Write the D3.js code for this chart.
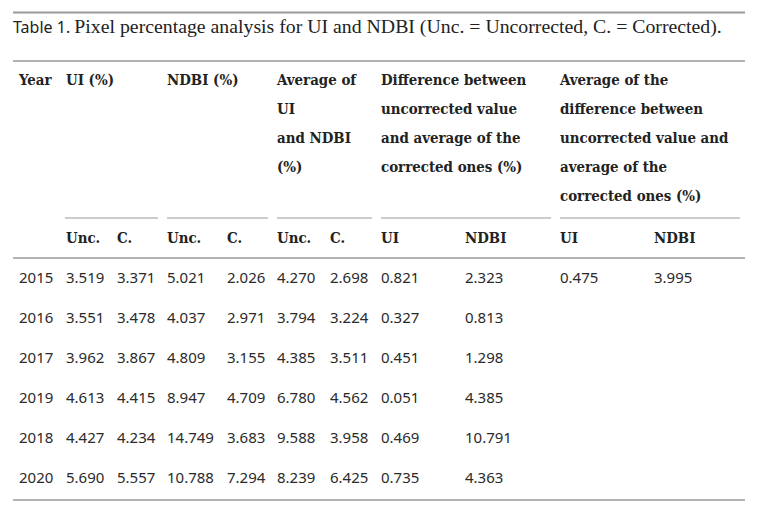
<!DOCTYPE html>
<html>
<head>
<meta charset="utf-8">
<script src="https://cdn.jsdelivr.net/npm/d3@7"></script>
<style>
  html, body { margin: 0; padding: 0; background: #fff; }
  .title { font-family: "Liberation Serif", serif; font-size: 19.8px; fill: #222; }
  .title-lead { font-family: "Noto Sans", sans-serif; font-size: 16px; }
  .hdr { font-family: "DejaVu Serif Condensed", "DejaVu Serif", serif; font-weight: bold; font-size: 14.9px; fill: #222; }
  .cell { font-family: "Noto Sans", sans-serif; font-size: 15px; fill: #2a2a2a; }
</style>
</head>
<body>
<div id="table"></div>
<script>
/* table content */
var years = ['2015', '2016', '2017', '2019', '2018', '2020'];
var uiUnc = ['3.519', '3.551', '3.962', '4.613', '4.427', '5.690'];
var uiC = ['3.371', '3.478', '3.867', '4.415', '4.234', '5.557'];
var ndbiUnc = ['5.021', '4.037', '4.809', '8.947', '14.749', '10.788'];
var ndbiC = ['2.026', '2.971', '3.155', '4.709', '3.683', '7.294'];
var avgUnc = ['4.270', '3.794', '4.385', '6.780', '9.588', '8.239'];
var avgC = ['2.698', '3.224', '3.511', '4.562', '3.958', '6.425'];
var diffUI = ['0.821', '0.327', '0.451', '0.051', '0.469', '0.735'];
var diffNDBI = ['2.323', '0.813', '1.298', '4.385', '10.791', '4.363'];
var avgDiffUI = ['0.475', '', '', '', '', ''];
var avgDiffNDBI = ['3.995', '', '', '', '', ''];

var groupHeaders = [
  ['Year'],
  ['UI (%)'],
  ['NDBI (%)'],
  ['Average of', 'UI', 'and NDBI', '(%)'],
  ['Difference between', 'uncorrected value', 'and average of the', 'corrected ones (%)'],
  ['Average of the', 'difference between', 'uncorrected value and', 'average of the', 'corrected ones (%)']
];
var subHeaders = ['', 'Unc.', 'C.', 'Unc.', 'C.', 'Unc.', 'C.', 'UI', 'NDBI', 'UI', 'NDBI'];
var columns = [years, uiUnc, uiC, ndbiUnc, ndbiC, avgUnc, avgC, diffUI, diffNDBI, avgDiffUI, avgDiffNDBI];

var W = 768, H = 512;
var left = 13, right = 745;

var svg = d3.select('#table').append('svg')
  .attr('width', W).attr('height', H);

/* column left edges */
var colX = d3.scaleOrdinal()
  .domain(d3.range(columns.length))
  .range([19, 66, 117, 167, 227, 277, 330, 381, 465, 560, 654]);

/* group spans (start col, end col) for header and rule underneath */
var groupSpan = [[0, 0], [1, 2], [3, 4], [5, 6], [7, 8], [9, 10]];
var groupRule = [null, [65, 158], [167, 268], [277, 372], [381, 551], [560, 740]];

var headerLine = d3.scaleLinear().domain([0, 1]).range([80, 109]);
var rowY = d3.scalePoint()
  .domain(d3.range(years.length))
  .range([278, 478]);

function rule(y, x1, x2, w) {
  svg.append('line')
    .attr('x1', x1).attr('x2', x2)
    .attr('y1', y).attr('y2', y)
    .attr('stroke', '#9a9a9a')
    .attr('stroke-width', w || 1.2);
}

/* title */
var title = svg.append('text').attr('class', 'title')
  .attr('x', left).attr('y', 32.5);
title.append('tspan').attr('class', 'title-lead').text('Table 1. ');
title.append('tspan').text('Pixel percentage analysis for UI and NDBI (Unc. = Uncorrected, C. = Corrected).');

rule(12.5, left, right, 2);
rule(61, left, right, 1.4);
rule(258, left, right, 1.4);
rule(500, left, right, 1.4);

/* group headers */
groupHeaders.forEach(function (lines, g) {
  var x = colX(groupSpan[g][0]);
  svg.append('g').selectAll('text')
    .data(lines)
    .join('text')
    .attr('class', 'hdr')
    .attr('x', x)
    .attr('y', function (d, i) { return headerLine(i) + 5; })
    .text(function (d) { return d; });
  if (groupRule[g]) rule(218, groupRule[g][0], groupRule[g][1], 1.2);
});

/* sub headers */
svg.append('g').selectAll('text')
  .data(subHeaders)
  .join('text')
  .attr('class', 'hdr')
  .attr('x', function (d, i) { return colX(i); })
  .attr('y', 243)
  .text(function (d) { return d; });

/* body cells */
columns.forEach(function (col, c) {
  svg.append('g').selectAll('text')
    .data(col)
    .join('text')
    .attr('class', 'cell')
    .attr('x', colX(c))
    .attr('y', function (d, i) { return rowY(i) + 5; })
    .text(function (d) { return d; });
});
</script>
</body>
</html>
